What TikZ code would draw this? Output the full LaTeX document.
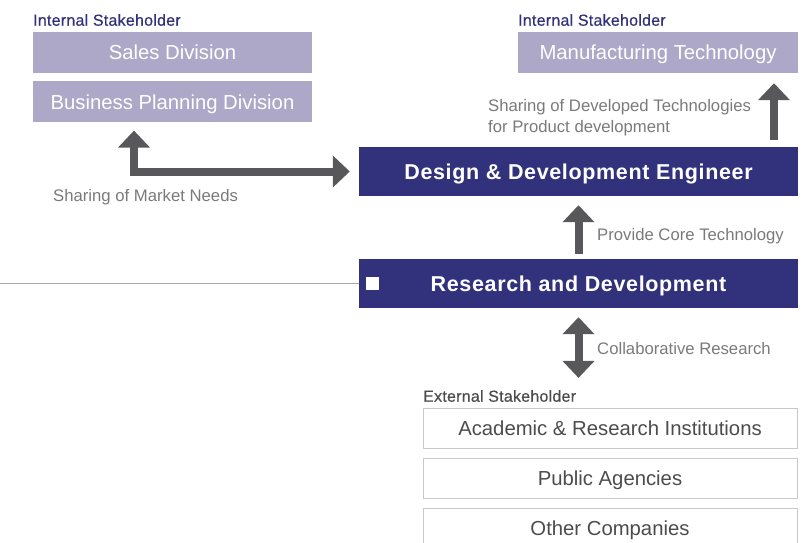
\documentclass[tikz,border=0pt]{standalone}
\usepackage{fontspec}
\setmainfont{Liberation Sans}
\newfontfamily\titlefont[LetterSpace=3.0]{Liberation Sans}
\newfontfamily\groupfont[FakeBold=0.5,LetterSpace=1.5]{Liberation Sans}
\usetikzlibrary{arrows.meta,positioning}

\definecolor{deepblue}{HTML}{31317C}
\definecolor{lavender}{HTML}{ADA8C8}
\definecolor{arrowgray}{HTML}{58585A}
\definecolor{notegray}{HTML}{7A7A7A}
\definecolor{framegray}{HTML}{C8C8C8}

\begin{document}
\begin{tikzpicture}[x=1pt,y=-1pt,
    inner node/.style={rectangle,fill=lavender,text=white,
      font=\fontsize{20.3}{23}\selectfont,text height=14.5pt,text depth=0pt,
      minimum width=279pt,minimum height=41pt},
    core node/.style={rectangle,fill=deepblue,text=white,
      font=\titlefont\bfseries\fontsize{21.5}{24}\selectfont,text height=15.5pt,text depth=0pt,
      minimum width=439pt,minimum height=49pt},
    outer node/.style={rectangle,draw=framegray,line width=1pt,text=black!70,
      font=\fontsize{20.3}{23}\selectfont,text height=14.5pt,text depth=0pt,
      minimum width=374pt,minimum height=40pt},
    group label/.style={anchor=west,inner sep=0pt,font=\groupfont\fontsize{16}{18}\selectfont},
    note/.style={anchor=west,inner sep=0pt,text=notegray,font=\fontsize{16.7}{21.5}\selectfont},
    bigarrow/.style={draw=arrowgray,line width=8pt,
      -{Triangle[width=31pt,length=17pt]}}]

    \useasboundingbox (0,0) rectangle (808,543);

    % internal stakeholders, left
    \node[group label,text=deepblue] (InLeft) at (33,20) {Internal Stakeholder};
    \node[inner node] (Sales) at (172.5,52.5) {Sales Division};
    \node[inner node] (Planning) [below=8pt of Sales] {Business Planning Division};

    % internal stakeholder, right
    \node[group label,text=deepblue] (InRight) at (518,20) {Internal Stakeholder};
    \node[inner node,minimum width=280pt] (Manuf) at (658,52.5) {Manufacturing Technology};

    % the two core units
    \node[core node] (Design) at (578.5,171.5) {Design \& Development Engineer};
    \node[core node] (Research) at (578.5,283.5) {Research and Development};
    \node[rectangle,fill=white,inner sep=0pt,minimum size=13pt] (Mark) at (372.5,283.5) {};
    \draw[black!35,line width=1pt] (0,283.5) -- (Research.west);

    % external stakeholders
    \node[group label,text=black!70] (Ext) at (423,396) {External Stakeholder};
    \node[outer node] (Academic) at (610,428) {Academic \& Research Institutions};
    \node[outer node] (Public) [below=9pt of Academic] {Public Agencies};
    \node[outer node] (Others) [below=9pt of Public] {Other Companies};

    % connector labels
    \node[note] (MarketNeeds) at (53,197) {Sharing of Market Needs};
    \node[note,anchor=north west,align=left] (SharedTech) at (488,99)
      {Sharing of Developed Technologies\\for Product development};
    \node[note] (CoreTech) at (597,236) {Provide Core Technology};
    \node[note] (Collab) at (597,349) {Collaborative Research};

    % arrows
    \coordinate (MarketFoot) at ([xshift=-38.5pt]Planning.south);
    \draw[bigarrow,{Triangle[width=31pt,length=17pt]}-{Triangle[width=31pt,length=17pt]},
      line join=miter,shorten <=8pt,shorten >=9pt]
      (MarketFoot) |- (Design.west);

    \coordinate (TechFoot) at ([xshift=195.5pt]Design.north);
    \draw[bigarrow,shorten <=7pt,shorten >=10pt] (TechFoot) -- (TechFoot |- Manuf.south);

    \draw[bigarrow,shorten <=5pt,shorten >=9pt] (Research.north) -- (Design.south);

    \draw[bigarrow,{Triangle[width=31pt,length=17pt]}-{Triangle[width=31pt,length=17pt]},
      shorten <=9pt,shorten >=12pt]
      (Research.south) -- (Research.south |- Ext.north);
\end{tikzpicture}
\end{document}
